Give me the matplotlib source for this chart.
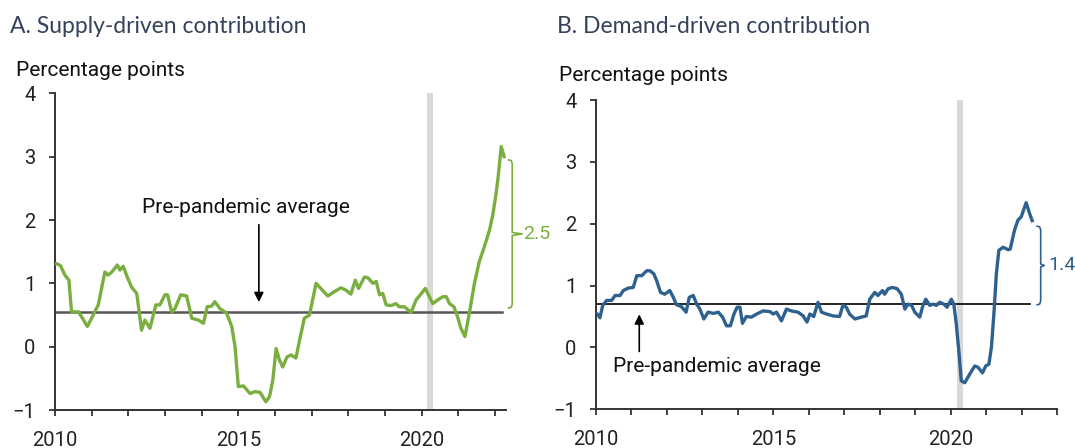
import numpy as np
import matplotlib
matplotlib.use("Agg")
import matplotlib.pyplot as plt
from matplotlib.ticker import FixedLocator, FuncFormatter

W, H = 1075, 448

# Panel A: supply-driven contribution (decimal year, percentage points)
supply_x = [2010.00, 2010.05, 2010.15, 2010.27, 2010.38, 2010.45, 2010.64, 2010.75, 2010.88, 2011.00,
            2011.18, 2011.36, 2011.45, 2011.55, 2011.70, 2011.77, 2011.86, 2011.97, 2012.09, 2012.23,
            2012.36, 2012.45, 2012.59, 2012.75, 2012.86, 2013.00, 2013.07, 2013.18, 2013.27, 2013.43,
            2013.59, 2013.73, 2013.91, 2014.05, 2014.15, 2014.27, 2014.36, 2014.50, 2014.68, 2014.82,
            2014.91, 2015.00, 2015.14, 2015.32, 2015.45, 2015.59, 2015.75, 2015.85, 2015.94, 2016.03,
            2016.12, 2016.21, 2016.33, 2016.44, 2016.57, 2016.71, 2016.80, 2016.94, 2017.12, 2017.25,
            2017.44, 2017.62, 2017.80, 2017.94, 2018.07, 2018.19, 2018.28, 2018.44, 2018.53, 2018.67,
            2018.76, 2018.85, 2018.94, 2019.03, 2019.17, 2019.30, 2019.39, 2019.53, 2019.71, 2019.85,
            2019.98, 2020.10, 2020.21, 2020.30, 2020.44, 2020.58, 2020.67, 2020.76, 2020.88, 2020.98,
            2021.07, 2021.18, 2021.30, 2021.44, 2021.57, 2021.71, 2021.85, 2021.94, 2022.03, 2022.08,
            2022.17, 2022.25]
supply_y = [1.31, 1.31, 1.28, 1.13, 1.05, 0.55, 0.55, 0.45, 0.32, 0.45,
            0.66, 1.18, 1.13, 1.18, 1.29, 1.21, 1.27, 1.10, 0.94, 0.84,
            0.26, 0.42, 0.29, 0.66, 0.66, 0.82, 0.82, 0.55, 0.60, 0.82,
            0.80, 0.45, 0.42, 0.37, 0.63, 0.64, 0.71, 0.60, 0.53, 0.32,
            0.00, -0.63, -0.62, -0.74, -0.71, -0.72, -0.87, -0.79, -0.53, -0.03,
            -0.21, -0.32, -0.16, -0.13, -0.18, 0.21, 0.45, 0.50, 1.00, 0.92,
            0.80, 0.87, 0.93, 0.89, 0.83, 1.05, 0.92, 1.10, 1.09, 1.00,
            1.03, 0.82, 0.84, 0.66, 0.65, 0.68, 0.63, 0.63, 0.54, 0.74,
            0.83, 0.92, 0.79, 0.68, 0.74, 0.79, 0.79, 0.68, 0.63, 0.47,
            0.29, 0.16, 0.53, 1.00, 1.34, 1.58, 1.84, 2.08, 2.42, 2.65,
            3.16, 3.00]

# Panel B: demand-driven contribution
demand_x = [2010.00, 2010.04, 2010.11, 2010.19, 2010.30, 2010.44, 2010.54, 2010.68, 2010.77, 2010.91,
            2011.05, 2011.15, 2011.29, 2011.43, 2011.52, 2011.63, 2011.71, 2011.82, 2011.94, 2012.08,
            2012.18, 2012.27, 2012.41, 2012.54, 2012.63, 2012.74, 2012.84, 2012.93, 2013.04, 2013.16,
            2013.31, 2013.45, 2013.57, 2013.68, 2013.79, 2013.89, 2013.98, 2014.06, 2014.13, 2014.24,
            2014.38, 2014.53, 2014.71, 2014.90, 2015.00, 2015.09, 2015.23, 2015.37, 2015.51, 2015.70,
            2015.84, 2015.95, 2016.03, 2016.14, 2016.26, 2016.36, 2016.50, 2016.68, 2016.87, 2016.96,
            2017.06, 2017.15, 2017.30, 2017.48, 2017.62, 2017.72, 2017.86, 2017.95, 2018.08, 2018.14,
            2018.24, 2018.36, 2018.49, 2018.61, 2018.71, 2018.80, 2018.90, 2018.99, 2019.13, 2019.22,
            2019.30, 2019.41, 2019.50, 2019.60, 2019.69, 2019.81, 2019.90, 2020.02, 2020.09, 2020.16,
            2020.24, 2020.30, 2020.40, 2020.54, 2020.68, 2020.77, 2020.90, 2020.99, 2021.08, 2021.15,
            2021.22, 2021.29, 2021.36, 2021.48, 2021.62, 2021.68, 2021.80, 2021.90, 2021.99, 2022.13,
            2022.23, 2022.30]
demand_y = [0.55, 0.54, 0.48, 0.68, 0.76, 0.76, 0.84, 0.84, 0.92, 0.96,
            0.97, 1.16, 1.16, 1.24, 1.24, 1.19, 1.08, 0.89, 0.86, 0.92,
            0.81, 0.69, 0.66, 0.57, 0.81, 0.84, 0.70, 0.62, 0.46, 0.57,
            0.55, 0.57, 0.49, 0.35, 0.35, 0.54, 0.65, 0.65, 0.39, 0.50,
            0.49, 0.54, 0.59, 0.58, 0.54, 0.57, 0.43, 0.62, 0.59, 0.57,
            0.51, 0.41, 0.54, 0.50, 0.73, 0.57, 0.54, 0.51, 0.50, 0.68,
            0.65, 0.54, 0.46, 0.49, 0.51, 0.78, 0.89, 0.84, 0.92, 0.86,
            0.95, 0.97, 0.95, 0.86, 0.62, 0.70, 0.68, 0.57, 0.49, 0.68,
            0.78, 0.68, 0.70, 0.68, 0.73, 0.70, 0.65, 0.78, 0.70, 0.38,
            -0.11, -0.54, -0.57, -0.43, -0.30, -0.32, -0.41, -0.30, -0.27, 0.00,
            0.54, 1.19, 1.57, 1.62, 1.58, 1.59, 1.89, 2.06, 2.11, 2.34,
            2.16, 2.05]

titles = ["A. Supply-driven contribution", "B. Demand-driven contribution"]
unit_label = "Percentage points"
avg_label = "Pre-pandemic average"
pre_avg = [0.54, 0.70]
gap_labels = ["2.5", "1.4"]
covid_span = [(2020.15, 2020.31), (2020.19, 2020.34)]
year_labels = {2010: "2010", 2015: "2015", 2020: "2020"}

GREEN = "#7aae3e"
BLUE = "#2f6190"
TITLE_C = "#36415c"
TICK_FONT = ["Roboto", "DejaVu Sans"]
TITLE_FONT = ["Lato", "DejaVu Sans"]

fig = plt.figure(figsize=(W / 100, H / 100), dpi=100)


def px_axes(left, right, top, bottom):
    return fig.add_axes([left / W, 1 - bottom / H, (right - left) / W, (bottom - top) / H])


def style_axes(ax, xmax, last_tick):
    ax.set_xlim(2010, xmax)
    ax.set_ylim(-1, 4)
    for s in ["top", "right"]:
        ax.spines[s].set_visible(False)
    for s in ["left", "bottom"]:
        ax.spines[s].set_color("#333333")
        ax.spines[s].set_linewidth(1.4)
    ax.set_yticks(range(-1, 5))
    ax.xaxis.set_major_locator(FixedLocator(list(range(2010, last_tick + 1))))
    ax.xaxis.set_major_formatter(FuncFormatter(lambda v, p: year_labels.get(int(round(v)), "")))
    ax.tick_params(axis="both", direction="out", length=4, width=1.3, color="#333333",
                   labelsize=14.5, labelcolor="#222222")
    ax.tick_params(axis="y", pad=10)
    ax.tick_params(axis="x", pad=11)
    for lab in ax.get_xticklabels() + ax.get_yticklabels():
        lab.set_family(TICK_FONT)


def brace(ax, x, top, bot, color, hook, nub):
    mid = (top + bot) / 2
    d = 0.06
    xs = [x - hook, x - hook * 0.3, x, x, x + nub, x, x, x - hook * 0.3, x - hook]
    ys = [top, top - 0.01, top - d, mid + d * 0.4, mid, mid - d * 0.4, bot + d, bot + 0.01, bot]
    ax.plot(xs, ys, color=color, lw=1.2, clip_on=False, solid_joinstyle="round")
    return mid


# ---- Panel A
axA = px_axes(55, 506, 93.4, 410)
style_axes(axA, 2022.3, 2022)
axA.axvspan(*covid_span[0], color="#d9d9d9", lw=0, zorder=0)
axA.plot([2010, 2022.18], [pre_avg[0], pre_avg[0]], color="#555555", lw=1.8, zorder=2)
axA.plot(supply_x, supply_y, color=GREEN, lw=2.4, zorder=3, solid_joinstyle="round")
axA.annotate("", xy=(2015.56, 0.66), xytext=(2015.56, 1.97),
             arrowprops=dict(arrowstyle="-|>", color="black", lw=1.2, mutation_scale=14))
axA.text(2015.2, 2.11, avg_label, ha="center", va="baseline", fontsize=15, family=TICK_FONT,
         color="#111111")
midA = brace(axA, 2022.47, supply_y[-1] - 0.05, 0.61, GREEN, 0.1, 0.27)
axA.text(2022.76, midA, gap_labels[0], ha="left", va="center", fontsize=14,
         family=TICK_FONT, color=GREEN, clip_on=False)

# ---- Panel B
axB = px_axes(596, 1057, 100, 409.3)
style_axes(axB, 2023, 2023)
axB.axvspan(*covid_span[1], color="#d9d9d9", lw=0, zorder=0)
axB.plot([2010, 2022.24], [pre_avg[1], pre_avg[1]], color="black", lw=1.2, zorder=2)
axB.plot(demand_x, demand_y, color=BLUE, lw=2.4, zorder=3, solid_joinstyle="round")
axB.annotate("", xy=(2011.22, 0.58), xytext=(2011.22, -0.11),
             arrowprops=dict(arrowstyle="-|>", color="black", lw=1.2, mutation_scale=14))
axB.text(2010.48, -0.405, avg_label, ha="left", va="baseline", fontsize=15, family=TICK_FONT,
         color="#111111")
midB = brace(axB, 2022.54, 1.96, 0.69, BLUE, 0.1, 0.1)
axB.text(2022.75, midB, gap_labels[1], ha="left", va="center", fontsize=14,
         family=TICK_FONT, color=BLUE, clip_on=False)

# ---- titles and unit labels
fig.text(10 / W, 1 - 33 / H, titles[0], fontsize=16.5, family=TITLE_FONT, color=TITLE_C, va="baseline")
fig.text(557 / W, 1 - 33 / H, titles[1], fontsize=16.5, family=TITLE_FONT, color=TITLE_C, va="baseline")
fig.text(16 / W, 1 - 76 / H, unit_label, fontsize=15, family=TICK_FONT, color="#111111", va="baseline")
fig.text(559 / W, 1 - 81 / H, unit_label, fontsize=15, family=TICK_FONT, color="#111111", va="baseline")

fig.savefig("out.png", dpi=100)
